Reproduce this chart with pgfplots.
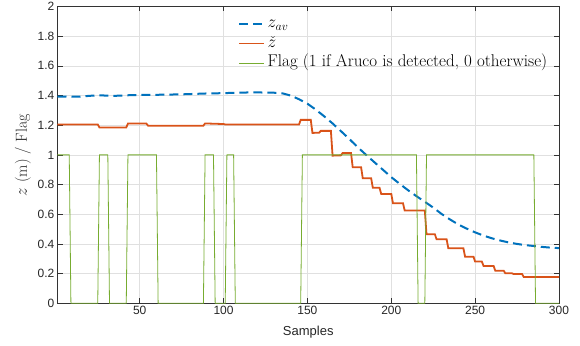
\documentclass[border=0pt]{standalone}
\usepackage{fontspec}
\setsansfont{Liberation Sans}
\usepackage{pgfplots}
\pgfplotsset{compat=1.18}
\definecolor{mblue}{rgb}{0,0.447,0.741}
\definecolor{morange}{rgb}{0.850,0.325,0.098}
\definecolor{mgreen}{rgb}{0.466,0.674,0.188}
\begin{document}
\begin{tikzpicture}
\path[use as bounding box] (-57.5pt,-41.7pt) rectangle (522.5pt,303.3pt);
\begin{axis}[
  at={(0pt,0pt)}, anchor=south west,
  width=501.5pt, height=296.8pt, scale only axis,
  xmin=1, xmax=300, ymin=0, ymax=2,
  xtick={50,100,150,200,250,300},
  ytick={0,0.2,0.4,0.6,0.8,1,1.2,1.4,1.6,1.8,2},
  yticklabels={0,0.2,0.4,0.6,0.8,1,1.2,1.4,1.6,1.8,2},
  grid=major, major grid style={color=black!12, line width=0.5pt},
  tick align=inside, major tick length=5pt,
  axis line style={color=black!80, line width=0.5pt},
  tick style={color=black!80, line width=0.5pt},
  ticklabel style={font=\sffamily\fontsize{12}{14}\selectfont, color=black!85},
  yticklabel style={inner xsep=3pt},
  xticklabel style={inner ysep=2.5pt},
  /pgf/number format/assume math mode=true,
  xlabel={Samples},
  every axis x label/.style={at={(axis description cs:0.5,0)}, anchor=center, yshift=-28.4pt, font=\sffamily\fontsize{13}{15}\selectfont, color=black!85},
  ylabel={$z$ (m) / Flag},
  every axis y label/.style={at={(axis description cs:-0.0688,0.5)}, anchor=center, rotate=90, font=\fontsize{16}{19}\selectfont, color=black!85},
  legend style={at={(axis description cs:0.36,0.968)}, anchor=north west, draw=none, fill=none,
    font=\fontsize{17}{20}\selectfont, inner sep=0pt, row sep=4pt,
    nodes={inner xsep=2.5pt, inner ysep=0pt, text height=11.5pt, text depth=4pt}},
  legend cell align=left,
  legend image code/.code={\draw[#1] plot coordinates {(0pt,0pt) (25pt,0pt)};},
]
\addplot[color=mblue, line width=2pt, dash pattern=on 9pt off 5pt] coordinates {
(1,1.392)(5,1.393)(10,1.392)(15,1.393)(20,1.398)(25,1.401)(30,1.400)(35,1.398)(40,1.400)
(45,1.403)(50,1.404)(55,1.405)(60,1.405)(65,1.406)(70,1.407)(75,1.408)(80,1.410)(85,1.412)
(90,1.414)(95,1.415)(100,1.416)(105,1.418)(110,1.419)(115,1.421)(120,1.421)(125,1.420)
(130,1.419)(135,1.415)(140,1.400)(145,1.375)(150,1.345)(155,1.305)(160,1.260)(165,1.212)
(170,1.160)(175,1.107)(180,1.052)(185,1.000)(190,0.950)(195,0.900)(200,0.850)(205,0.805)
(210,0.762)(215,0.722)(220,0.684)(225,0.645)(230,0.602)(235,0.565)(240,0.531)(245,0.503)
(250,0.478)(255,0.456)(260,0.438)(265,0.423)(270,0.410)(275,0.400)(280,0.392)(285,0.386)
(290,0.380)(295,0.375)(300,0.372)
};
\addlegendentry{$z_{av}$}
\addplot[color=morange, line width=1.8pt] coordinates {
(1,1.205)(25,1.205)(26,1.185)(42,1.185)(43,1.211)(54,1.211)(55,1.197)(88,1.197)(89,1.212)
(100,1.208)(101,1.205)(145,1.205)(146,1.236)(152,1.236)(153,1.148)(157,1.150)(158,1.162)
(164,1.162)(165,0.995)(170,0.997)(171,1.013)(176,1.013)(177,0.917)(182,0.917)(183,0.843)
(188,0.843)(189,0.778)(193,0.778)(194,0.737)(200,0.737)(201,0.674)(207,0.674)(208,0.625)
(220,0.625)(221,0.465)(226,0.465)(227,0.431)(233,0.431)(234,0.371)(243,0.371)(244,0.314)
(249,0.314)(250,0.281)(254,0.281)(255,0.252)(261,0.252)(262,0.220)(267,0.220)(268,0.202)
(272,0.202)(273,0.197)(278,0.197)(279,0.177)(300,0.177)
};
\addlegendentry{$\check{z}$}
\addplot[color=mgreen, line width=0.8pt] coordinates {
(1,1)(8,1)(9,0)(25,0)(26,1)(31,1)(32,0)(42,0)(43,1)(60,1)(61,0)(88,0)(89,1)(94,1)(95,0)
(101,0)(102,1)(106,1)(107,0)(146,0)(147,1)(215,1)(216,0)(220,0)(221,1)(285,1)(286,0)(300,0)
};
\addlegendentry{Flag (1 if Aruco is detected, 0 otherwise)}
\end{axis}
\end{tikzpicture}
\end{document}
